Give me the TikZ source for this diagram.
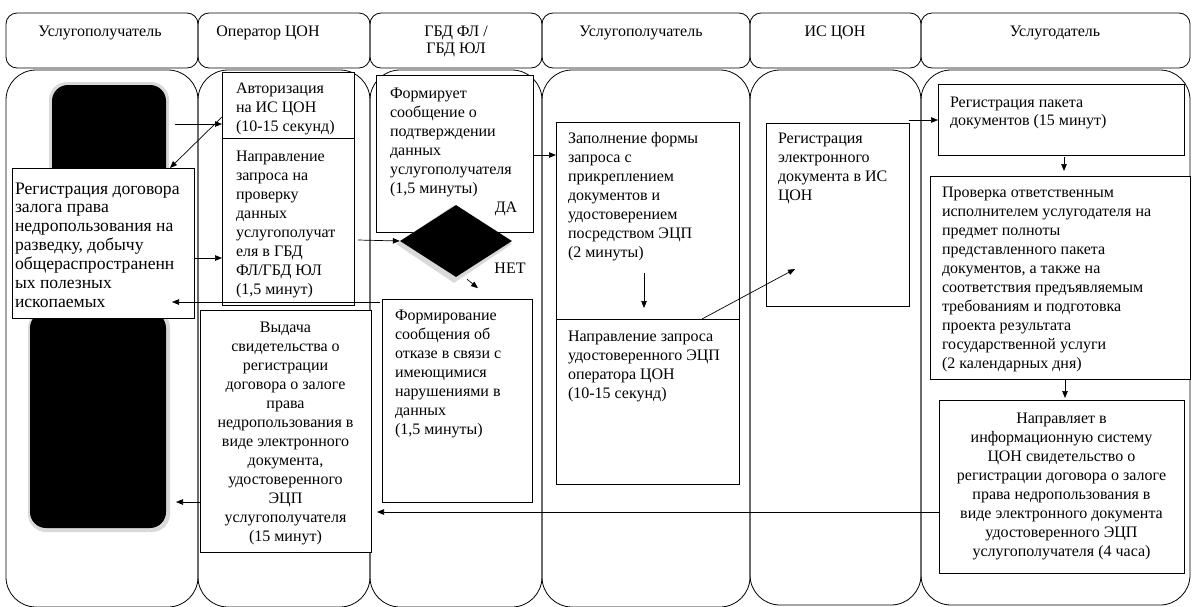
\documentclass[tikz,border=0pt]{standalone}
\usepackage{fontspec}
\setmainfont{Liberation Serif}
\usetikzlibrary{arrows.meta,shapes.geometric,calc}
\newcommand\fs{\fontsize{16}{19}\selectfont}
\newcommand\fsl{\fontsize{17.6}{18.9}\selectfont}
\newcommand\fh{\fontsize{16}{17}\selectfont}
\begin{document}
\begin{tikzpicture}[x=1pt,y=-1pt,
  lane/.style={draw, line width=0.8pt, rounded corners=30pt, inner sep=0, outer sep=0, anchor=north west},
  hdr/.style={draw, line width=0.8pt, rounded corners=11pt, inner sep=0, outer sep=0, anchor=north west},
  bx/.style={draw, fill=white, line width=0.8pt, inner sep=0, outer sep=0, anchor=north west},
  txt/.style={inner sep=0, outer sep=0, anchor=north west, align=left, font=\fs},
  ctxt/.style={inner sep=0, outer sep=0, anchor=north, align=center, font=\fs},
  htxt/.style={inner sep=0, outer sep=0, anchor=north, align=center, font=\fh},
  blk/.style={fill=black, rounded corners=16pt, inner sep=0, outer sep=0, anchor=north west},
  glow/.style={fill=black!15, rounded corners=18pt, inner sep=0, outer sep=0, anchor=north west},
  arr/.style={-{Triangle[length=7pt,width=5.5pt]}, line width=0.7pt}
]
\useasboundingbox (0,0) rectangle (1193,606);
% lanes
\node[lane, minimum width=192, minimum height=537] (L1) at (6,70) {};
\node[lane, minimum width=172, minimum height=537] (L2) at (198,70) {};
\node[lane, minimum width=172, minimum height=537] (L3) at (370,70) {};
\node[lane, minimum width=208, minimum height=537] (L4) at (542,70) {};
\node[lane, minimum width=171, minimum height=535] (L5) at (750,70) {};
\node[lane, minimum width=269, minimum height=535] (L6) at (921,70) {};
% headers
\node[hdr, minimum width=192, minimum height=55] (H1) at (6,13) {};
\node[hdr, minimum width=172, minimum height=55] (H2) at (198,13) {};
\node[hdr, minimum width=172, minimum height=55] (H3) at (370,13) {};
\node[hdr, minimum width=208, minimum height=55] (H4) at (542,13) {};
\node[hdr, minimum width=171, minimum height=55] (H5) at (750,13) {};
\node[hdr, minimum width=269, minimum height=55] (H6) at (921,13) {};
\node[htxt] (h1) at (100,25) {\strut Услугополучатель};
\node[htxt] (h2) at (268,25) {\strut Оператор ЦОН};
\node[htxt] (h3) at (456,25) {\strut ГБД ФЛ /\\ГБД ЮЛ};
\node[htxt] (h4) at (641,25) {\strut Услугополучатель};
\node[htxt] (h5) at (835,25) {\strut ИС ЦОН};
\node[htxt] (h6) at (1055,25) {\strut Услугодатель};
% black shapes
\node[glow, minimum width=120, minimum height=126] (K1g) at (49,82) {};
\node[blk, minimum width=114, minimum height=120] (K1) at (52,85) {};
\node[glow, minimum width=142, minimum height=222] (K2g) at (28,310) {};
\node[blk, minimum width=136, minimum height=216] (K2) at (30,312) {};
% boxes
\node[bx, minimum width=182, minimum height=150] (B1) at (12,168) {};
\node[bx, minimum width=132, minimum height=66] (B2) at (222,72) {};
\node[bx, minimum width=132, minimum height=167] (B3) at (222,138) {};
\node[bx, minimum width=171, minimum height=242] (B4) at (200,310) {};
\node[bx, minimum width=157, minimum height=157] (B5) at (376,75) {};
\node[bx, minimum width=150, minimum height=203] (B6) at (382,299) {};
\node[bx, minimum width=183, minimum height=197] (B7) at (556,122) {};
\node[bx, minimum width=183, minimum height=165] (B8) at (556,319) {};
\node[bx, minimum width=143, minimum height=183] (B9) at (766,123) {};
\node[bx, minimum width=246, minimum height=71] (B10) at (938,84) {};
\node[bx, minimum width=260, minimum height=203] (B11) at (930,176) {};
\node[bx, minimum width=245, minimum height=173] (B12) at (939,400) {};
% decision diamond
\node[diamond, fill=black!15, inner sep=0, minimum width=116, minimum height=78] (Dg) at (454,244) {};
\node[diamond, fill=black, inner sep=0, minimum width=112, minimum height=72] (D) at (456,241) {};
% texts
\node[txt, font=\fsl] (t1) at (15,180.8) {\strut Регистрация договора\\залога права\\недропользования на\\разведку, добычу\\общераспространенн\\ых полезных\\ископаемых};
\node[txt] (t2) at (236,79.7) {\strut Авторизация\\на ИС ЦОН\\(10-15 секунд)};
\node[txt] (t3) at (236,147.7) {\strut Направление\\запроса на\\проверку\\данных\\услугополучат\\еля в ГБД\\ФЛ/ГБД ЮЛ\\(1,5 минут)};
\node[ctxt] (t4) at (285.5,318.7) {\strut Выдача\\свидетельства о\\регистрации\\договора о залоге\\права\\недропользования в\\виде электронного\\документа,\\удостоверенного\\ЭЦП\\услугополучателя\\(15 минут)};
\node[txt] (t5) at (390,84.7) {\strut Формирует\\сообщение о\\подтверждении\\данных\\услугополучателя\\(1,5 минуты)};
\node[txt] (t6) at (395,306.7) {\strut Формирование\\сообщения об\\отказе в связи с\\имеющимися\\нарушениями в\\данных\\(1,5 минуты)};
\node[txt] (t7) at (568,129.7) {\strut Заполнение формы\\запроса с\\прикреплением\\документов и\\удостоверением\\посредством ЭЦП\\(2 минуты)};
\node[txt] (t8) at (568,327.7) {\strut Направление запроса\\удостоверенного ЭЦП\\оператора ЦОН\\(10-15 секунд)};
\node[txt] (t9) at (778,129.7) {\strut Регистрация\\электронного\\документа в ИС\\ЦОН};
\node[txt, font=\fontsize{16}{18}\selectfont] (t10) at (950,94.4) {\strut Регистрация пакета\\документов (15 минут)};
\node[txt] (t11) at (942,183.7) {\strut Проверка ответственным\\исполнителем услугодателя на\\предмет полноты\\представленного пакета\\документов, а также на\\соответствия предъявляемым\\требованиям и подготовка\\проекта результата\\государственной услуги\\(2 календарных дня)};
\node[ctxt] (t12) at (1061.5,409.7) {\strut Направляет в\\информационную систему\\ЦОН свидетельство о\\регистрации договора о залоге\\права недропользования в\\виде электронного документа\\удостоверенного ЭЦП\\услугополучателя (4 часа)};
\node[inner sep=0, font=\fs] (da) at (506,209) {ДА};
\node[inner sep=0, font=\fs] (net) at (510,268) {НЕТ};
% arrows
\draw[arr] ($(K1.east |- 0,124)+(9,0)$) -- (B2.west |- 0,124);
\draw[arr] (B2.west |- 0,117) -- ($(B1.north east)+(-24,0)$);
\draw[arr] (B1.east |- 0,258) -- (B3.west |- 0,258);
\draw[arr] ($(B3.east |- 0,240)+(4,0)$) -- (D.west);
\draw[arr] (B5.east |- 0,155) -- (B7.west |- 0,155);
\draw[arr] ($(D.south)+(11,2)$) -- ($(D.south)+(22,11)$);
\draw[arr] ($(B6.north west)+(-2,3)$) -- ($(B1.south east)+(-22,-16)$);
\draw[arr] (B4.west |- 0,502) -- ($(K2.east |- 0,502)+(10,0)$);
\draw[arr] (B9.east |- 0,120) -- (B10.west |- 0,120);
\draw[arr] ($(B8.north -| 644,0)+(0,-46)$) -- ($(B8.north -| 644,0)+(0,-11)$);
\draw[arr] (B8.north -| 702,0) -- ($(B9.south west)+(29,-37)$);
\draw[arr] ($(B10.south -| 1064,0)+(0,2)$) -- ($(B11.north -| 1064,0)+(0,-5)$);
\draw[arr] ($(B11.south -| 1065,0)+(0,1)$) -- ($(B12.north -| 1065,0)+(0,-2)$);
\draw[arr] (B12.west |- 0,512) -- ($(B4.east |- 0,512)+(6,0)$);
\end{tikzpicture}
\end{document}
